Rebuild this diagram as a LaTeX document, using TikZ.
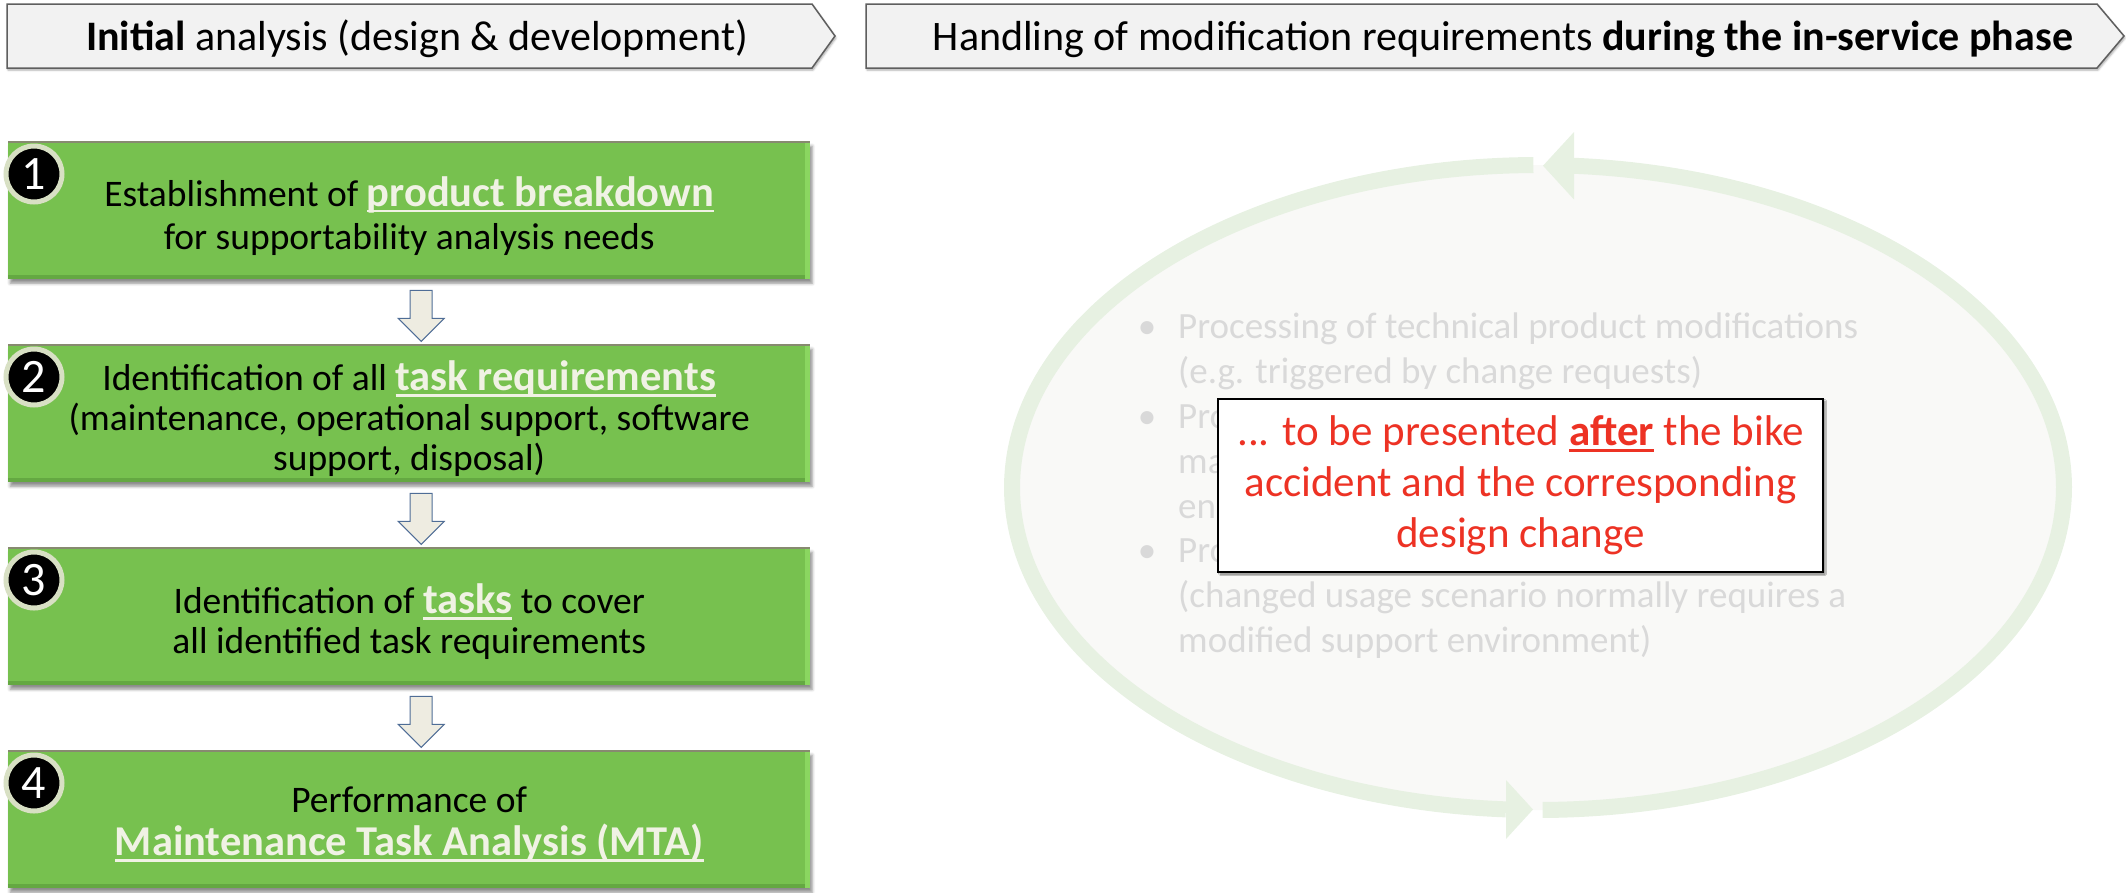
\documentclass[tikz,border=0pt]{standalone}
\usepackage{fontspec}
\setmainfont{Carlito}
\usetikzlibrary{calc,shadows.blur}

\definecolor{boxgreen}{RGB}{119,193,79}
\definecolor{boxlight}{RGB}{138,214,96}
\definecolor{boxdark}{RGB}{100,168,66}
\definecolor{boxrim}{RGB}{135,138,112}
\definecolor{cream}{RGB}{240,242,228}
\definecolor{ringbeige}{RGB}{216,224,196}
\definecolor{ringgreen}{RGB}{231,241,226}
\definecolor{ovalfill}{RGB}{249,249,247}
\definecolor{fadedtext}{RGB}{217,217,217}
\definecolor{alertred}{RGB}{237,50,36}
\definecolor{headfill}{RGB}{242,242,242}
\definecolor{headline}{RGB}{95,95,95}
\definecolor{arrowfill}{RGB}{238,236,225}
\definecolor{arrowline}{RGB}{79,109,150}

\newcommand\xhdrfont{\fontsize{42}{46}\selectfont}
\newcommand\xstepfont{\fontsize{37.5}{40}\selectfont}
\newcommand\xkeyfont{\fontsize{42.5}{40}\selectfont}
\newcommand\xdigitfont{\fontsize{48}{48}\selectfont}
\newcommand\xpalefont{\fontsize{37}{45}\selectfont}
\newcommand\xnotefont{\fontsize{43}{51}\selectfont}
% underline drawn a fixed distance below the baseline
\newsavebox\ulsave
\newcommand\ulin[1]{\sbox\ulsave{#1}\rlap{\rule[-6pt]{\wd\ulsave}{2.4pt}}\usebox\ulsave}
\newcommand\hl[1]{{\xkeyfont\textcolor{cream}{\ulin{\textbf{#1}}}}}

\begin{document}
\begin{tikzpicture}[x=1pt, y=-1pt,
  hdr/.style={fill=headfill, draw=headline, line width=1.5pt,
    blur shadow={shadow xshift=1pt, shadow yshift=-2pt, shadow blur radius=2pt, shadow opacity=35}},
  hdrtext/.style={anchor=base, inner sep=0pt, font=\xhdrfont},
  stepbox/.style={fill=boxgreen, minimum width=802pt, minimum height=137pt, inner sep=0pt,
    anchor=north west,
    blur shadow={shadow xshift=2pt, shadow yshift=-4pt, shadow blur radius=3pt, shadow opacity=45}},
  steptext/.style={align=center, inner sep=0pt, font=\xstepfont},
  numdisc/.style={circle, fill=black, draw=ringbeige, line width=5pt, minimum size=56pt,
    inner sep=0pt, text=white, font=\xdigitfont},
  downarr/.pic={\draw[arrowline, fill=arrowfill, line width=1pt]
    (-11,0) -- (11,0) -- (11,28) -- (23,28) -- (0,51) -- (-23,28) -- (-11,28) -- cycle;},
  ring/.style={ringgreen, line width=16pt},
  pale/.style={text=fadedtext, font=\xpalefont, anchor=base west, inner sep=0pt},
  palebullet/.style={text=fadedtext, font=\xpalefont, anchor=base, inner sep=0pt},
  notebox/.style={fill=white, draw=black, line width=1.5pt, minimum width=605pt,
    minimum height=173pt, align=center, text=alertred, font=\xnotefont, inner sep=0pt,
    blur shadow={shadow xshift=2pt, shadow yshift=-2pt, shadow blur radius=1.5pt, shadow opacity=50}}
]
\useasboundingbox (0,0) rectangle (2126,892);

% ---------- phase headers ----------
\path[hdr] (7,4) -- (812,4) -- (835,36) -- (812,68) -- (7,68) -- cycle;
\node[hdrtext] (h1) at (417,50) {\textbf{Initial} analysis (design \& development)};
\path[hdr] (866,4) -- (2097,4) -- (2124,36) -- (2097,68) -- (866,68) -- cycle;
\node[hdrtext] (h2) at (1503,50) {Handling of modification requirements \textbf{during the in-service phase}};

% ---------- in-service cycle (faded) ----------
\fill[ovalfill] (1538,487.5) ellipse [x radius=526, y radius=322.5];
\draw[ring] plot[domain=269.5:93.5, samples=140, smooth] ({1538+526*cos(\x)}, {487.5+322.5*sin(\x)});
\draw[ring] plot[domain=89.5:-86.1, samples=140, smooth] ({1538+526*cos(\x)}, {487.5+322.5*sin(\x)});
\fill[ringgreen] (1506,780) -- (1533,809.5) -- (1506,839) -- cycle;
\fill[ringgreen] (1574,132) -- (1543,165.7) -- (1574,199.5) -- cycle;

\node[palebullet] (d1) at (1147,338) {•};
\node[pale] (p1) at (1178,338) {Processing of technical product modifications};
\node[pale] (p2) at (1178,383) {(e.g. triggered by change requests)};
\node[palebullet] (d2) at (1147,428) {•};
\node[pale] (p3) at (1178,428) {Pro};
\node[pale] (p4) at (1178,473) {ma};
\node[pale] (p5) at (1178,518) {en};
\node[palebullet] (d3) at (1147,562) {•};
\node[pale] (p6) at (1178,562) {Pro};
\node[pale] (p7) at (1178,607) {(changed usage scenario normally requires a};
\node[pale] (p8) at (1178,652) {modified support environment)};

\node[notebox] (note) at (1520.5,485.5)
  {... to be presented \ulin{\textbf{after}} the bike\\accident and the corresponding\\design change};

% ---------- initial analysis steps ----------
\node[stepbox] (b1) at (8,142) {};
\node[stepbox] (b2) at (8,345) {};
\node[stepbox] (b3) at (8,548) {};
\node[stepbox] (b4) at (8,751) {};
\foreach \b in {b1,b2,b3,b4}{
  \fill[boxlight] ($(\b.north east)+(-5,0)$) rectangle (\b.south east);
  \fill[boxdark] ($(\b.south west)+(0,-4)$) rectangle ($(\b.south east)+(-5,0)$);
  \draw[boxrim, line width=2pt] (\b.north west) -- (\b.north east);
}

\node[steptext] (t1) at ($(b1.center)+(0,5)$)
  {Establishment of \hl{product breakdown}\\[3pt]for supportability analysis needs};
\node[steptext] (t2) at ($(b2.center)+(0,5)$)
  {Identification of all \hl{task requirements}\\(maintenance, operational support, software\\support, disposal)};
\node[steptext] (t3) at ($(b3.center)+(0,5)$)
  {Identification of \hl{tasks} to cover\\all identified task requirements};
\node[steptext] (t4) at ($(b4.center)+(0,5)$)
  {Performance of\\[3pt]\hl{Maintenance Task Analysis (MTA)}};

\node[numdisc] (n1) at ($(b1.north west)+(26,32)$) {1};
\node[numdisc] (n2) at ($(b2.north west)+(26,32)$) {2};
\node[numdisc] (n3) at ($(b3.north west)+(26,32)$) {3};
\node[numdisc] (n4) at ($(b4.north west)+(26,32)$) {4};

\path (b1.south) ++(12,11) pic {downarr};
\path (b2.south) ++(12,11) pic {downarr};
\path (b3.south) ++(12,11) pic {downarr};
\end{tikzpicture}
\end{document}
